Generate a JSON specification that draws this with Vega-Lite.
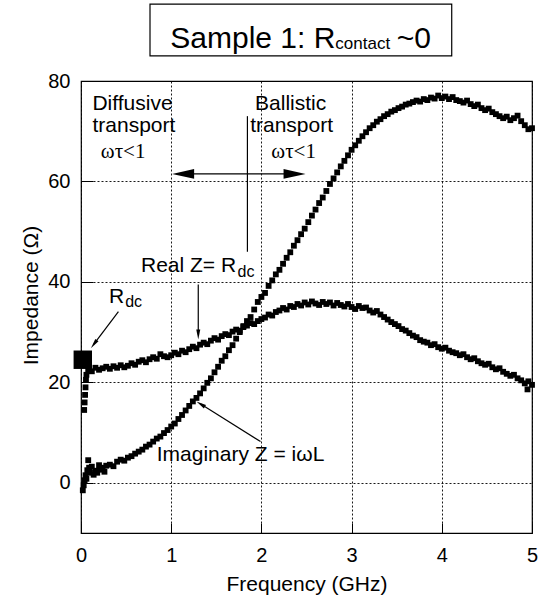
{
  "$schema": "https://vega.github.io/schema/vega-lite/v6.json",
  "width": 451,
  "height": 452,
  "autosize": "none",
  "padding": {"left": 81, "top": 81, "right": 12, "bottom": 65},
  "background": "white",
  "config": {
    "view": {"stroke": "black", "strokeWidth": 1.2},
    "font": "Liberation Sans"
  },
  "datasets": {
    "real": [
      {"x":0.035,"y":14.5},{"x":0.04,"y":16},{"x":0.045,"y":17.5},{"x":0.05,"y":19},{"x":0.055,"y":20.5},{"x":0.06,"y":21.5},
      {"x":0.08,"y":22.6},{"x":0.12,"y":22.2},{"x":0.16,"y":22.9},{"x":0.2,"y":22.5},{"x":0.24,"y":22.8},{"x":0.28,"y":23.1},
      {"x":0.32,"y":22.7},{"x":0.36,"y":23.2},{"x":0.4,"y":22.9},{"x":0.44,"y":23.4},{"x":0.48,"y":23.0},{"x":0.52,"y":23.3},
      {"x":0.56,"y":23.8},{"x":0.6,"y":23.5},{"x":0.64,"y":24.1},{"x":0.68,"y":24.4},{"x":0.72,"y":24.0},{"x":0.76,"y":24.6},
      {"x":0.8,"y":25.0},{"x":0.84,"y":24.7},{"x":0.88,"y":25.6},{"x":0.92,"y":25.2},{"x":0.96,"y":25.0},{"x":1.0,"y":25.4},
      {"x":1.04,"y":25.9},{"x":1.08,"y":25.6},{"x":1.12,"y":26.3},{"x":1.16,"y":26.0},{"x":1.2,"y":26.6},{"x":1.24,"y":27.1},
      {"x":1.28,"y":26.8},{"x":1.32,"y":27.5},{"x":1.36,"y":27.9},{"x":1.4,"y":27.6},{"x":1.44,"y":28.3},{"x":1.48,"y":28.8},
      {"x":1.52,"y":28.5},{"x":1.56,"y":29.2},{"x":1.6,"y":29.6},{"x":1.64,"y":29.4},{"x":1.68,"y":30.1},{"x":1.72,"y":30.5},
      {"x":1.76,"y":30.3},{"x":1.8,"y":31.0},{"x":1.84,"y":31.3},{"x":1.88,"y":31.8},{"x":1.92,"y":31.6},{"x":1.96,"y":32.2},
      {"x":2.0,"y":32.6},{"x":2.04,"y":32.9},{"x":2.08,"y":33.5},{"x":2.12,"y":33.3},{"x":2.16,"y":34.0},{"x":2.2,"y":34.3},
      {"x":2.24,"y":34.8},{"x":2.28,"y":34.5},{"x":2.32,"y":35.2},{"x":2.36,"y":35.0},{"x":2.4,"y":35.6},{"x":2.44,"y":35.3},
      {"x":2.48,"y":35.9},{"x":2.52,"y":35.5},{"x":2.56,"y":36.1},{"x":2.6,"y":35.7},{"x":2.64,"y":35.4},{"x":2.68,"y":36.0},
      {"x":2.72,"y":35.6},{"x":2.76,"y":35.9},{"x":2.8,"y":35.3},{"x":2.84,"y":35.8},{"x":2.88,"y":35.4},{"x":2.92,"y":35.1},
      {"x":2.96,"y":35.6},{"x":3.0,"y":35.0},{"x":3.04,"y":34.6},{"x":3.08,"y":35.2},{"x":3.12,"y":34.8},{"x":3.16,"y":34.9},
      {"x":3.2,"y":34.3},{"x":3.24,"y":33.9},{"x":3.28,"y":34.2},{"x":3.32,"y":33.5},{"x":3.36,"y":33.0},{"x":3.4,"y":32.5},
      {"x":3.44,"y":32.0},{"x":3.48,"y":31.6},{"x":3.52,"y":31.2},{"x":3.56,"y":30.6},{"x":3.6,"y":30.3},{"x":3.64,"y":29.8},
      {"x":3.68,"y":29.3},{"x":3.72,"y":29.0},{"x":3.76,"y":28.4},{"x":3.8,"y":28.1},{"x":3.84,"y":27.9},{"x":3.88,"y":27.4},
      {"x":3.92,"y":27.6},{"x":3.96,"y":27.0},{"x":4.0,"y":26.7},{"x":4.04,"y":26.9},{"x":4.08,"y":26.3},{"x":4.12,"y":26.0},
      {"x":4.16,"y":25.8},{"x":4.2,"y":25.4},{"x":4.24,"y":25.6},{"x":4.28,"y":25.0},{"x":4.32,"y":24.6},{"x":4.36,"y":24.8},
      {"x":4.4,"y":24.2},{"x":4.44,"y":23.8},{"x":4.48,"y":23.5},{"x":4.52,"y":23.7},{"x":4.56,"y":23.0},{"x":4.6,"y":22.6},
      {"x":4.64,"y":22.8},{"x":4.68,"y":22.1},{"x":4.72,"y":21.7},{"x":4.76,"y":21.3},{"x":4.8,"y":21.5},{"x":4.84,"y":20.8},
      {"x":4.88,"y":20.4},{"x":4.92,"y":19.8},{"x":4.95,"y":18.6},{"x":4.96,"y":20.2},{"x":5.0,"y":19.5}
    ],
    "imag": [
      {"x":0.02,"y":-1.5},{"x":0.03,"y":-0.5},{"x":0.04,"y":0.5},{"x":0.05,"y":1.5},{"x":0.06,"y":0.8},{"x":0.07,"y":2.5},
      {"x":0.08,"y":4.5},{"x":0.09,"y":3.0},{"x":0.1,"y":2.0},{"x":0.12,"y":3.2},{"x":0.14,"y":1.6},{"x":0.16,"y":2.4},
      {"x":0.18,"y":2.0},{"x":0.2,"y":3.5},{"x":0.22,"y":2.6},{"x":0.24,"y":3.0},{"x":0.26,"y":2.2},{"x":0.28,"y":3.4},
      {"x":0.32,"y":3.6},{"x":0.36,"y":3.3},{"x":0.4,"y":4.2},{"x":0.44,"y":4.6},{"x":0.48,"y":4.4},{"x":0.52,"y":5.0},
      {"x":0.56,"y":5.3},{"x":0.6,"y":5.8},{"x":0.64,"y":6.2},{"x":0.68,"y":6.6},{"x":0.72,"y":7.2},{"x":0.76,"y":7.6},
      {"x":0.8,"y":8.2},{"x":0.84,"y":8.8},{"x":0.88,"y":9.2},{"x":0.92,"y":9.9},{"x":0.96,"y":10.5},{"x":1.0,"y":11.2},
      {"x":1.04,"y":11.8},{"x":1.08,"y":12.7},{"x":1.12,"y":13.5},{"x":1.16,"y":14.4},{"x":1.2,"y":15.3},{"x":1.24,"y":16.2},
      {"x":1.28,"y":16.9},{"x":1.32,"y":17.8},{"x":1.36,"y":18.8},{"x":1.4,"y":19.9},{"x":1.44,"y":20.8},{"x":1.48,"y":22.0},
      {"x":1.52,"y":23.1},{"x":1.56,"y":24.3},{"x":1.6,"y":25.2},{"x":1.64,"y":26.4},{"x":1.68,"y":27.4},{"x":1.72,"y":28.7},
      {"x":1.76,"y":30.0},{"x":1.8,"y":31.2},{"x":1.84,"y":32.2},{"x":1.88,"y":33.0},{"x":1.92,"y":34.5},{"x":1.96,"y":36.0},
      {"x":2.0,"y":37.0},{"x":2.04,"y":37.8},{"x":2.08,"y":39.2},{"x":2.12,"y":40.3},{"x":2.16,"y":41.5},{"x":2.2,"y":42.4},
      {"x":2.24,"y":43.6},{"x":2.28,"y":44.8},{"x":2.32,"y":45.9},{"x":2.36,"y":47.2},{"x":2.4,"y":48.3},{"x":2.44,"y":49.5},
      {"x":2.48,"y":50.6},{"x":2.52,"y":51.9},{"x":2.56,"y":53.2},{"x":2.6,"y":54.4},{"x":2.64,"y":55.7},{"x":2.68,"y":56.8},
      {"x":2.72,"y":58.1},{"x":2.76,"y":59.5},{"x":2.8,"y":60.6},{"x":2.84,"y":61.8},{"x":2.88,"y":63.0},{"x":2.92,"y":64.1},
      {"x":2.96,"y":65.2},{"x":3.0,"y":66.3},{"x":3.04,"y":67.2},{"x":3.08,"y":68.1},{"x":3.12,"y":69.0},{"x":3.16,"y":69.8},
      {"x":3.2,"y":70.6},{"x":3.24,"y":71.2},{"x":3.28,"y":71.9},{"x":3.32,"y":72.4},{"x":3.36,"y":73.0},{"x":3.4,"y":73.4},
      {"x":3.44,"y":73.9},{"x":3.48,"y":74.2},{"x":3.52,"y":74.6},{"x":3.56,"y":74.9},{"x":3.6,"y":75.3},{"x":3.64,"y":75.5},
      {"x":3.68,"y":75.8},{"x":3.72,"y":76.1},{"x":3.76,"y":75.9},{"x":3.8,"y":76.4},{"x":3.84,"y":76.2},{"x":3.88,"y":76.7},
      {"x":3.92,"y":76.5},{"x":3.96,"y":77.1},{"x":4.0,"y":76.6},{"x":4.04,"y":76.9},{"x":4.08,"y":76.4},{"x":4.12,"y":76.8},
      {"x":4.16,"y":76.2},{"x":4.2,"y":76.0},{"x":4.24,"y":75.7},{"x":4.28,"y":76.1},{"x":4.32,"y":75.4},{"x":4.36,"y":75.0},
      {"x":4.4,"y":75.3},{"x":4.44,"y":74.6},{"x":4.48,"y":74.2},{"x":4.52,"y":74.5},{"x":4.56,"y":73.8},{"x":4.6,"y":73.4},
      {"x":4.64,"y":73.0},{"x":4.68,"y":72.6},{"x":4.72,"y":72.9},{"x":4.76,"y":72.2},{"x":4.8,"y":72.6},{"x":4.84,"y":73.1},
      {"x":4.88,"y":72.0},{"x":4.92,"y":71.2},{"x":4.96,"y":70.4},{"x":5.0,"y":70.6}
    ]
  },
  "encoding": {
    "x": {
      "field": "x", "type": "quantitative",
      "scale": {"domain": [0, 5], "nice": false, "zero": false},
      "axis": {
        "values": [0, 1, 2, 3, 4, 5], "title": "Frequency (GHz)", "format": "d",
        "labelFontSize": 20, "titleFontSize": 21, "titleFontWeight": "normal",
        "labelColor": "black", "titleColor": "black",
        "domain": false, "tickSize": -10, "tickColor": "black", "labelPadding": 22,
        "grid": true, "gridColor": "black", "gridDash": [2, 2], "gridOpacity": 0.9,
        "titleY": 57, "titleBaseline": "alphabetic", "labelFlush": false
      }
    },
    "y": {
      "field": "y", "type": "quantitative",
      "scale": {"domain": [-10, 80], "nice": false, "zero": false},
      "axis": {
        "values": [0, 20, 40, 60, 80], "title": "Impedance (Ω)",
        "labelFontSize": 20, "titleFontSize": 21, "titleFontWeight": "normal",
        "labelColor": "black", "titleColor": "black",
        "domain": false, "tickSize": -12, "tickColor": "black", "labelPadding": 23,
        "grid": true, "gridColor": "black", "gridDash": [2, 2], "gridOpacity": 0.9,
        "titleX": -44, "titleY": 214, "titleAlign": "center", "titleBaseline": "alphabetic",
        "labelFlush": false
      }
    }
  },
  "layer": [
    {
      "data": {"values": [{"x": 0.765, "x2": 4.11, "y": 85.0, "y2": 95.3}]},
      "mark": {"type": "rect", "fill": "white", "stroke": "black", "strokeWidth": 1.2},
      "encoding": {"x2": {"field": "x2"}, "y2": {"field": "y2"}}
    },
    {
      "data": {"values": [{"x": 0.99, "y": 86.6, "label": "Sample 1: R"}, {"x": 3.5, "y": 86.6, "label": "~0"}]},
      "mark": {"type": "text", "fontSize": 30, "align": "left", "baseline": "alphabetic", "color": "black"},
      "encoding": {"text": {"field": "label"}}
    },
    {
      "data": {"values": [{"x": 2.82, "y": 86.4, "label": "contact"}]},
      "mark": {"type": "text", "fontSize": 17, "align": "left", "baseline": "alphabetic", "color": "black"},
      "encoding": {"text": {"field": "label"}}
    },
    {
      "data": {"name": "real"},
      "mark": {"type": "point", "shape": "square", "filled": true, "size": 34, "color": "black", "opacity": 1}
    },
    {
      "data": {"name": "imag"},
      "mark": {"type": "point", "shape": "square", "filled": true, "size": 34, "color": "black", "opacity": 1}
    },
    {
      "data": {"values": [{"x": 0.02, "y": 24.5}]},
      "mark": {"type": "point", "shape": "square", "filled": true, "size": 340, "color": "black", "opacity": 1}
    },
    {
      "data": {"values": [
        {"x": 0.127, "y": 74.2, "label": "Diffusive"},
        {"x": 0.127, "y": 69.9, "label": "transport"},
        {"x": 1.93, "y": 74.2, "label": "Ballistic"},
        {"x": 1.875, "y": 69.9, "label": "transport"},
        {"x": 0.665, "y": 42.05, "label": "Real Z= R"},
        {"x": 0.31, "y": 35.8, "label": "R"},
        {"x": 0.84, "y": 4.25, "label": "Imaginary Z = iωL"}
      ]},
      "mark": {"type": "text", "fontSize": 21, "align": "left", "baseline": "alphabetic", "color": "black"},
      "encoding": {"text": {"field": "label"}}
    },
    {
      "data": {"values": [
        {"x": 1.735, "y": 40.9, "label": "dc"},
        {"x": 0.49, "y": 35.0, "label": "dc"}
      ]},
      "mark": {"type": "text", "fontSize": 16, "align": "left", "baseline": "alphabetic", "color": "black"},
      "encoding": {"text": {"field": "label"}}
    },
    {
      "data": {"values": [
        {"x": 0.22, "y": 64.7, "label": "ωτ<1"},
        {"x": 2.11, "y": 64.7, "label": "ωτ<1"}
      ]},
      "mark": {"type": "text", "fontSize": 21, "font": "Liberation Serif", "align": "left", "baseline": "alphabetic", "color": "black"},
      "encoding": {"text": {"field": "label"}}
    },
    {
      "data": {"values": [
        {"x": 1.845, "y": 46, "x2": 1.845, "y2": 73},
        {"x": 1.13, "y": 61.5, "x2": 2.37, "y2": 61.5},
        {"x": 1.3, "y": 39.5, "x2": 1.3, "y2": 29.5},
        {"x": 0.415, "y": 34.1, "x2": 0.143, "y2": 27.6},
        {"x": 1.99, "y": 8.2, "x2": 1.327, "y2": 15.67}
      ]},
      "mark": {"type": "rule", "color": "black", "strokeWidth": 1.2},
      "encoding": {"x2": {"field": "x2"}, "y2": {"field": "y2"}}
    },
    {
      "data": {"values": [{"x": 1.132, "y": 61.5}]},
      "mark": {"type": "point", "shape": "M 0 -1 L 0.45 1 L -0.45 1 Z", "size": 484, "angle": 270, "filled": true, "color": "black", "opacity": 1}
    },
    {
      "data": {"values": [{"x": 2.368, "y": 61.5}]},
      "mark": {"type": "point", "shape": "M 0 -1 L 0.45 1 L -0.45 1 Z", "size": 484, "angle": 90, "filled": true, "color": "black", "opacity": 1}
    },
    {
      "data": {"values": [{"x": 1.3, "y": 29.5}]},
      "mark": {"type": "point", "shape": "M 0 -1 L 0.4 1 L -0.4 1 Z", "size": 100, "angle": 180, "filled": true, "color": "black", "opacity": 1}
    },
    {
      "data": {"values": [{"x": 0.143, "y": 27.6}]},
      "mark": {"type": "point", "shape": "M 0 -1 L 0.4 1 L -0.4 1 Z", "size": 100, "angle": 217, "filled": true, "color": "black", "opacity": 1}
    },
    {
      "data": {"values": [{"x": 1.327, "y": 15.67}]},
      "mark": {"type": "point", "shape": "M 0 -1 L 0.4 1 L -0.4 1 Z", "size": 100, "angle": 302, "filled": true, "color": "black", "opacity": 1}
    }
  ]
}
